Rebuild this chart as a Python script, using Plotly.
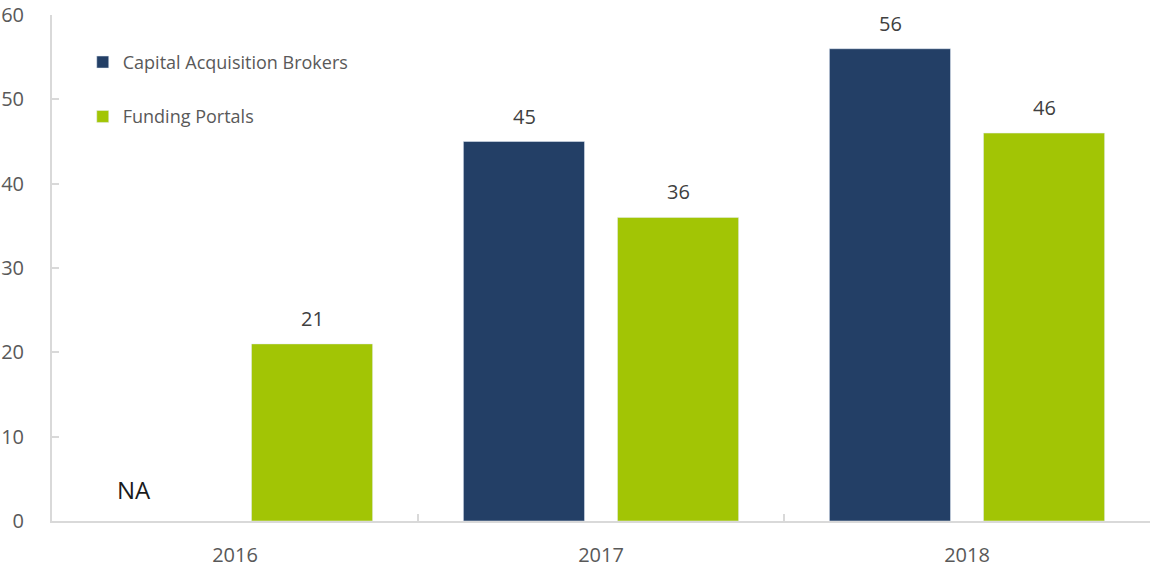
import plotly.graph_objects as go

years = ["2016", "2017", "2018"]
cab_values = [None, 45, 56]
fp_values = [21, 36, 46]
series_names = ["Capital Acquisition Brokers", "Funding Portals"]
y_ticks = [0, 10, 20, 30, 40, 50, 60]

navy = "#233F66"
green = "#A2C505"
grey_text = "#595959"
axis_grey = "#D9D9D9"
font_family = "Open Sans, Segoe UI, sans-serif"

fig = go.Figure()
fig.add_trace(go.Bar(x=years, y=cab_values, name=series_names[0], marker_color=navy,
                     legendgroup="a", hoverinfo="skip"))
fig.add_trace(go.Bar(x=years, y=fp_values, name=series_names[1], marker_color=green,
                     legendgroup="b", hoverinfo="skip"))

annotations = []
for vals, shift in ((cab_values, -77), (fp_values, 77)):
    for i, v in enumerate(vals):
        if v is None:
            annotations.append(dict(x=i, y=0, text="NA", showarrow=False, xshift=-101,
                                    yanchor="bottom", yshift=13,
                                    font=dict(size=24, color="#1A1A1A", family=font_family)))
        else:
            annotations.append(dict(x=i, y=v, text=str(v), showarrow=False, xshift=shift,
                                    yanchor="bottom", yshift=10,
                                    font=dict(size=20, color="#404040", family=font_family)))

fig.update_layout(
    width=1151, height=569,
    margin=dict(l=52, r=1, t=15, b=48),
    paper_bgcolor="white", plot_bgcolor="white",
    barmode="group", bargap=0.158, bargroupgap=0.214,
    font=dict(family=font_family, color=grey_text),
    showlegend=True,
    legend=dict(x=0.028, y=0.943, xanchor="left", yanchor="top",
                tracegroupgap=28, font=dict(size=18, color=grey_text),
                bgcolor="rgba(0,0,0,0)"),
    annotations=annotations,
    xaxis=dict(type="category", range=[-0.5, 2.5], showline=True, linecolor=axis_grey,
               linewidth=2, ticks="inside", tickson="boundaries", ticklen=7,
               tickcolor=axis_grey, tickwidth=2, showgrid=False,
               tickfont=dict(size=20, color=grey_text), ticklabelstandoff=15,
               zeroline=False, automargin=False),
    yaxis=dict(range=[0, 60], tickvals=y_ticks, showline=True, linecolor=axis_grey,
               linewidth=2, ticks="inside", ticklen=7, tickcolor=axis_grey, tickwidth=2,
               showgrid=False, zeroline=False, tickfont=dict(size=20, color=grey_text),
               ticklabelstandoff=22, automargin=False, ticklabeloverflow="allow"),
)

fig.write_html("out.html", config={"displayModeBar": False},
               post_script="document.body.style.margin='0';")
